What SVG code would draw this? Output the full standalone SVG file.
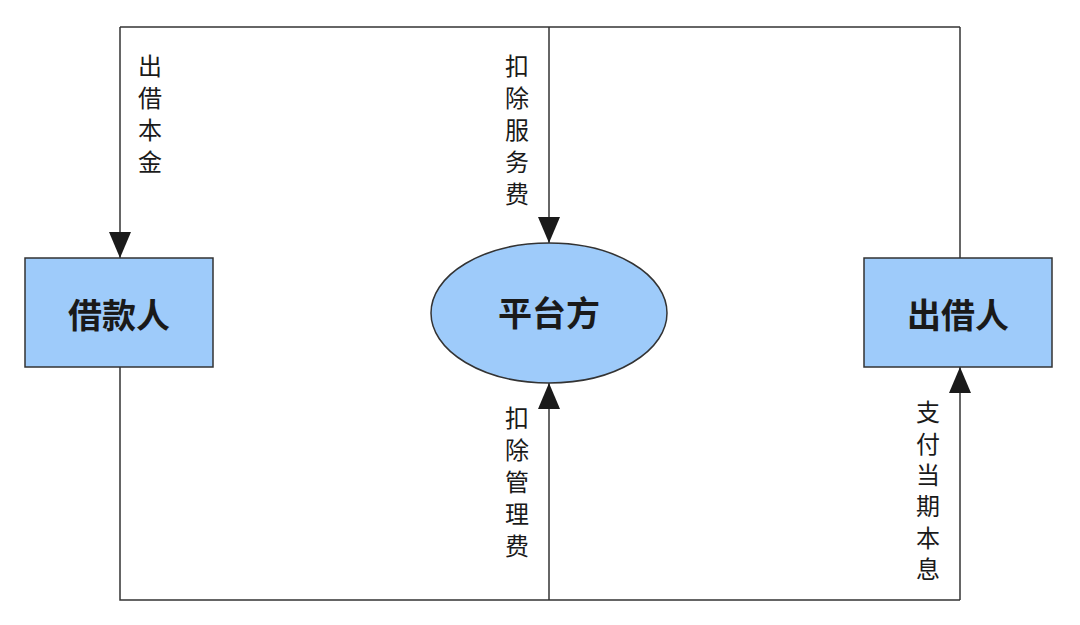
<svg xmlns="http://www.w3.org/2000/svg" width="1080" height="625" viewBox="0 0 1080 625">
<defs>
<style>
.node{fill:#9ecbfa;stroke:#333;stroke-width:1.5}
.nt{font-family:"Noto Sans CJK SC","Noto Sans",sans-serif;font-size:34px;font-weight:bold;fill:#1a1a1a;text-anchor:middle;dominant-baseline:central}
.ln{fill:none;stroke:#333;stroke-width:1.5}
.lb{font-family:"Noto Sans CJK SC","Noto Sans",sans-serif;font-size:24px;fill:#1a1a1a;writing-mode:vertical-rl;text-orientation:upright;letter-spacing:8px}
</style>
<marker id="ah" markerWidth="26" markerHeight="22" refX="26" refY="11" orient="auto" markerUnits="userSpaceOnUse">
<path d="M0,0 L26,11 L0,22 Z" fill="#1a1a1a"/>
</marker>
</defs>
<rect width="1080" height="625" fill="#ffffff"/>
<g id="connectors">
<path class="ln" d="M120,27 L960,27"/>
<path class="ln" d="M120,27 L120,258" marker-end="url(#ah)"/>
<path class="ln" d="M549,27 L549,243" marker-end="url(#ah)"/>
<path class="ln" d="M960,27 L960,258"/>
<path class="ln" d="M120,367 L120,600 L960,600"/>
<path class="ln" d="M549,600 L549,383" marker-end="url(#ah)"/>
<path class="ln" d="M960,600 L960,367" marker-end="url(#ah)"/>
<text class="lb" x="150" y="54">出借本金</text>
<text class="lb" x="517" y="54">扣除服务费</text>
<text class="lb" x="517" y="406">扣除管理费</text>
<text class="lb" x="928" y="400" style="letter-spacing:7.4px">支付当期本息</text>
</g>
<g id="borrower">
<rect class="node" x="25" y="258" width="188" height="109"/>
<text class="nt" x="119" y="313">借款人</text>
</g>
<g id="platform">
<ellipse class="node" cx="549" cy="313" rx="118" ry="70"/>
<text class="nt" x="549" y="311">平台方</text>
</g>
<g id="lender">
<rect class="node" x="864" y="258" width="188" height="109"/>
<text class="nt" x="958" y="313">出借人</text>
</g>
</svg>
